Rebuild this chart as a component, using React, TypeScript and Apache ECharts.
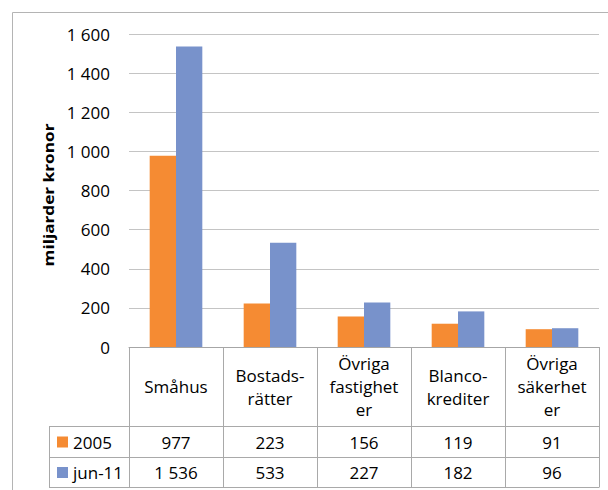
import React, { useEffect, useRef } from "react";
import * as echarts from "echarts";

const categories = ["Småhus", "Bostads-\nrätter", "Övriga\nfastighet\ner", "Blanco-\nkrediter", "Övriga\nsäkerhet\ner"];
const seriesNames = ["2005", "jun-11"];
const values2005 = [977, 223, 156, 119, 91];
const valuesJun11 = [1536, 533, 227, 182, 96];
const colors = ["#F58B33", "#7892CB"];
const yTicks = { min: 0, max: 1600, interval: 200 };
const yAxisTitle = "miljarder kronor";

const W = 608;
const H = 490;
const gridLeft = 129;
const gridRight = 9;
const gridTop = 34;
const gridBottomY = 347;
const catRowBottom = 426;
const row1Bottom = 457;
const row2Bottom = 487;
const legendLeft = 49;
const FONT = "'Open Sans', 'Noto Sans', sans-serif";
const FS = 17;
const lineColor = "#A9A9A9";

function fmt(v: number): string {
  return String(v).replace(/\B(?=(\d{3})+(?!\d))/g, " ");
}

function measure(text: string, font: string): number {
  const c = document.createElement("canvas");
  const ctx = c.getContext("2d");
  if (!ctx) return 110;
  ctx.font = font;
  return ctx.measureText(text).width;
}

export default function App() {
  const ref = useRef<HTMLDivElement>(null);
  useEffect(() => {
    if (!ref.current) return;
    const chart = echarts.init(ref.current, null, { renderer: "svg" });
    const plotRight = W - gridRight;
    const colW = (plotRight - gridLeft) / categories.length;
    const graphics: any[] = [];
    // outer frame
    graphics.push({ type: "line", shape: { x1: 12.5, y1: 12.5, x2: W, y2: 12.5 }, style: { stroke: "#B4B4B4", lineWidth: 1 } });
    graphics.push({ type: "line", shape: { x1: 12.5, y1: 12.5, x2: 12.5, y2: H }, style: { stroke: "#B4B4B4", lineWidth: 1 } });
    // y axis title
    const titleFs = 15;
    const natural = measure(yAxisTitle, `bold ${titleFs}px 'Open Sans'`);
    const stretch = natural > 0 ? 143 / natural : 1;
    graphics.push({
      type: "text",
      x: 48,
      y: 195,
      rotation: Math.PI / 2,
      scaleX: stretch,
      style: {
        text: yAxisTitle, x: 0, y: 0, align: "center", verticalAlign: "middle",
        fontFamily: FONT, fontSize: titleFs, fontWeight: "bold", fill: "#000",
      },
    });
    // table horizontal lines
    [catRowBottom, row1Bottom, row2Bottom].forEach((y) => {
      graphics.push({ type: "line", shape: { x1: legendLeft, y1: y + 0.5, x2: plotRight, y2: y + 0.5 }, style: { stroke: lineColor, lineWidth: 1 } });
    });
    // vertical lines
    for (let i = 0; i <= categories.length; i++) {
      const x = Math.round(gridLeft + i * colW) + 0.5;
      graphics.push({ type: "line", shape: { x1: x, y1: gridBottomY, x2: x, y2: row2Bottom + 0.5 }, style: { stroke: lineColor, lineWidth: 1 } });
    }
    graphics.push({ type: "line", shape: { x1: legendLeft + 0.5, y1: catRowBottom, x2: legendLeft + 0.5, y2: row2Bottom + 0.5 }, style: { stroke: lineColor, lineWidth: 1 } });
    // category labels
    categories.forEach((c, i) => {
      graphics.push({
        type: "text",
        style: {
          text: c, x: gridLeft + (i + 0.5) * colW, y: (gridBottomY + catRowBottom) / 2,
          align: "center", verticalAlign: "middle", fontFamily: FONT, fontSize: FS, lineHeight: 23, fill: "#000",
        },
      });
    });
    // value rows
    const rows = [values2005, valuesJun11];
    const rowCenters = [(catRowBottom + row1Bottom) / 2 + 0.5, (row1Bottom + row2Bottom) / 2 + 0.5];
    rows.forEach((vals, r) => {
      vals.forEach((v, i) => {
        graphics.push({
          type: "text",
          style: {
            text: fmt(v), x: gridLeft + (i + 0.5) * colW, y: rowCenters[r],
            align: "center", verticalAlign: "middle", fontFamily: FONT, fontSize: FS, fill: "#000",
          },
        });
      });
      graphics.push({ type: "rect", shape: { x: 57, y: rowCenters[r] - 5.5, width: 11, height: 11 }, style: { fill: colors[r] } });
      graphics.push({
        type: "text",
        style: {
          text: seriesNames[r], x: 73, y: rowCenters[r], align: "left", verticalAlign: "middle",
          fontFamily: FONT, fontSize: FS, fill: "#000",
        },
      });
    });

    chart.setOption({
      animation: false,
      backgroundColor: "#fff",
      grid: { left: gridLeft, right: gridRight, top: gridTop, bottom: H - gridBottomY, containLabel: false },
      xAxis: {
        type: "category",
        data: categories,
        axisLine: { show: true, lineStyle: { color: "#A6A6A6", width: 1 } },
        axisTick: { show: false },
        axisLabel: { show: false },
      },
      yAxis: {
        type: "value",
        min: yTicks.min,
        max: yTicks.max,
        interval: yTicks.interval,
        axisLine: { show: false },
        axisTick: { show: false },
        axisLabel: { fontFamily: FONT, fontSize: FS, color: "#000", margin: 19, formatter: (v: number) => fmt(v) },
        splitLine: { lineStyle: { color: "#C4C4C4", width: 1 } },
      },
      series: [
        { name: seriesNames[0], type: "bar", data: values2005, itemStyle: { color: colors[0] }, barGap: "0%", barCategoryGap: "44%" },
        { name: seriesNames[1], type: "bar", data: valuesJun11, itemStyle: { color: colors[1] }, barGap: "0%", barCategoryGap: "44%" },
      ],
      graphic: graphics,
    });
    return () => chart.dispose();
  }, []);
  return <div ref={ref} style={{ position: "fixed", left: 0, top: 0, width: W, height: H }} />;
}
